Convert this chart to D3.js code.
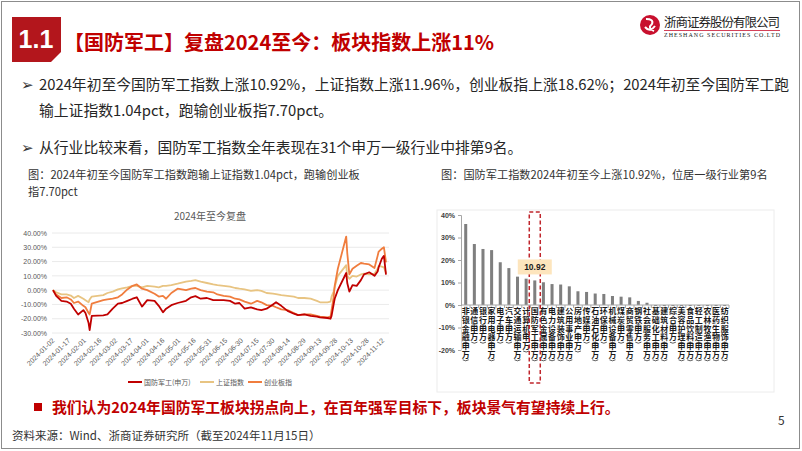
<!DOCTYPE html>
<html>
<head>
<meta charset="utf-8">
<script src="https://cdn.jsdelivr.net/npm/d3@7"></script>
<style>
  body { margin: 0; background: #fff; }
  svg { display: block; font-family: "Noto Sans CJK SC", "Noto Sans", sans-serif; }
</style>
</head>
<body>
<svg id="slide" width="802" height="451"></svg>
<script>
// ---- left chart data (cumulative return since 2024-01-02, %) ----
const dates = ['01-02','01-05','01-10','01-15','01-19','01-22','01-26','01-31',
  '02-02','02-05','02-06','02-08','02-19','02-23','02-28',
  '03-04','03-08','03-13','03-18','03-22','03-27',
  '04-01','04-08','04-12','04-16','04-19','04-24','04-30',
  '05-08','05-13','05-17','05-22','05-28',
  '06-03','06-07','06-13','06-19','06-24','06-28',
  '07-03','07-09','07-15','07-19','07-24','07-30',
  '08-02','08-07','08-13','08-19','08-23','08-29',
  '09-04','09-10','09-13','09-20','09-23','09-24','09-26','09-27','09-30',
  '10-08','10-09','10-11','10-14','10-18','10-22','10-25','10-30',
  '11-04','11-07','11-08','11-11','11-13','11-15'];
const defenseVals = [0, -4, -7.5, -8, -9.5, -13, -17, -14,
  -16, -23, -28, -18, -17.6, -17, -13,
  -9.5, -9, -7.5, -6, -5, -11.5,
  -7, -7.5, -11, -15.5, -13, -10.5, -9,
  -7.5, -5, -4.2, -6, -5.5,
  -7, -7, -7, -7.5, -9.5, -9,
  -13, -12, -13.5, -14, -13, -10,
  -8.5, -11, -14.5, -16.5, -17.5, -17,
  -18, -18.5, -19, -19.5, -20, -18, -10, -6, 0,
  12, 5, -1, 3.5, 3, 7, 11, 12.5,
  10, 13, 16, 22, 24, 10.92];
const shVals = [0, -1.5, -3, -3, -3.8, -5.5, -4, -6,
  -7, -8.5, -6.5, -4.5, -3.5, -2, -1,
  0.5, 1.2, 2, 3, 3, 2,
  3, 2.5, 2, 3, 3, 3.5, 4.5,
  6, 6.5, 7, 6, 5,
  4, 3.5, 3, 2.5, 1.5, 1,
  0.5, -0.5, 0, -0.5, -2, -2.5,
  -2.8, -3.5, -4, -4.5, -5.5, -5.5,
  -6, -7.5, -8.5, -8.5, -8, -4.5, -1, 2, 10,
  17.5, 10, 8, 10, 9.5, 11, 11.5, 11,
  11.5, 15, 17, 16.5, 16, 11.96];
const gemVals = [0, -3, -5.5, -5, -6.5, -9, -8, -11,
  -12, -16, -17, -9.5, -7, -6.5, -6,
  -5, -3, 0.5, 3, 4, 1,
  0, -2.5, -4.5, -4, -6, -2, 1,
  0, 1, 1.5, 0, -1,
  -1.5, -3, -4, -4.5, -6, -6.5,
  -8, -9.5, -7.5, -8.5, -10.5, -11,
  -12, -13.5, -14, -16, -17.5, -17,
  -17, -18, -18.5, -19, -18.5, -14, -5, 3, 15,
  37.5, 26, 11, 15, 17, 19, 18.5, 18,
  15.5, 24, 27, 29, 30, 19.5];
const seriesNames = ['国防军工(申万)', '上证指数', '创业板指'];
const seriesColors = ['#c00000', '#e8c482', '#f07d3e'];
const lineTicks = [40, 30, 20, 10, 0, -10, -20, -30];

// ---- right chart data (2024 YTD return by SW level-1 industry, %) ----
const industries = ['非银金融','通信','银行','家用电器','电子','汽车','交通运输','计算机',
  '国防军工','有色金属','电力设备','建筑装饰','公用事业','房地产','传媒','石油石化',
  '环保','机械设备','煤炭','商贸零售','钢铁','社会服务','基础化工','建筑材料',
  '综合','美容护理','食品饮料','轻工制造','农林牧渔','医药生物','纺织服饰'];
const industryVals = [36, 27.1, 24.9, 24.4, 19, 16.4, 12.6, 11.7,
  10.92, 10.1, 9.3, 9.1, 8.3, 6.1, 5.8, 5.1,
  4.9, 4.0, 3.7, 3.4, 1.8, 1.0, -0.6, -1.4,
  -2.2, -3.1, -4.0, -5.2, -6.5, -8.0, -9.3];
const barTicks = [40, 30, 20, 10, 0, -10, -20];
const highlight = '国防军工';

const svg = d3.select('#slide');
const red = '#c00000';

// slide frame
svg.append('rect').attr('x', 1.5).attr('y', 1.5).attr('width', 798).attr('height', 447)
  .attr('fill', 'none').attr('stroke', '#8c8c8c');

// header
svg.append('path').attr('d', 'M12,17H61V52L51,62H12Z').attr('fill', '#b3161c');
svg.append('text').attr('x', 36).attr('y', 48).attr('text-anchor', 'middle')
  .attr('fill', '#fff').attr('font-size', 25).attr('font-weight', 700)
  .attr('font-family', 'Liberation Sans Narrow, Arial, sans-serif').text('1.1');
svg.append('text').attr('x', 64).attr('y', 50).attr('fill', red)
  .attr('font-size', 20).attr('font-weight', 700)
  .text('【国防军工】复盘2024至今：板块指数上涨11%');

// logo
const logo = svg.append('g').attr('transform', 'translate(650,25)');
logo.append('circle').attr('r', 10).attr('fill', '#c8102e');
logo.append('path').attr('d', 'M-4,-6 Q4,-6 2,-1 Q-3,3 4,6 M-5,2 Q0,8 5,1')
  .attr('fill', 'none').attr('stroke', '#fff').attr('stroke-width', 2);
svg.append('text').attr('x', 664).attr('y', 27).attr('font-size', 12.5)
  .attr('fill', '#222').attr('textLength', 116).text('浙商证券股份有限公司');
svg.append('line').attr('x1', 664).attr('x2', 780).attr('y1', 30.5).attr('y2', 30.5)
  .attr('stroke', '#c8102e').attr('stroke-width', 0.8);
svg.append('text').attr('x', 664).attr('y', 37).attr('font-size', 6)
  .attr('font-family', 'Liberation Serif, serif').attr('fill', '#222')
  .attr('textLength', 116).text('ZHESHANG SECURITIES CO.LTD');

// bullets
const bullets = [
  {y: 90, arrow: true, text: '2024年初至今国防军工指数上涨10.92%，上证指数上涨11.96%，创业板指上涨18.62%；2024年初至今国防军工跑'},
  {y: 116, arrow: false, text: '输上证指数1.04pct，跑输创业板指7.70pct。'},
  {y: 153, arrow: true, text: '从行业比较来看，国防军工指数全年表现在31个申万一级行业中排第9名。'}
];
bullets.forEach(b => {
  if (b.arrow) {
    svg.append('text').attr('x', 21).attr('y', b.y).attr('font-size', 15)
      .attr('font-family', 'DejaVu Sans').attr('fill', '#333').text('➢');
  }
  svg.append('text').attr('x', 39).attr('y', b.y).attr('font-size', 14.8)
    .attr('fill', '#262626').text(b.text);
});

// captions
svg.append('text').attr('x', 28).attr('y', 179).attr('font-size', 11.2).attr('fill', '#333')
  .text('图：2024年初至今国防军工指数跑输上证指数1.04pct，跑输创业板');
svg.append('text').attr('x', 28).attr('y', 195.5).attr('font-size', 11.2).attr('fill', '#333')
  .text('指7.70pct');
svg.append('text').attr('x', 441).attr('y', 179).attr('font-size', 11.2).attr('fill', '#333')
  .text('图：国防军工指数2024年初至今上涨10.92%，位居一级行业第9名');

// ================= left: line chart =================
const parse = d3.timeParse('%Y-%m-%d');
const dd = dates.map(d => parse('2024-' + d));
const xL = d3.scaleTime().domain([parse('2024-01-02'), parse('2024-11-15')]).range([53, 386]);
const yL = d3.scaleLinear().domain([-30, 40]).range([333, 233]);

svg.append('text').attr('x', 210).attr('y', 220).attr('text-anchor', 'middle')
  .attr('font-size', 10).attr('fill', '#595959').text('2024年至今复盘');

const gL = svg.append('g');
gL.selectAll('line.grid').data(lineTicks).enter().append('line')
  .attr('x1', 52).attr('x2', 389)
  .attr('y1', d => yL(d)).attr('y2', d => yL(d))
  .attr('stroke', '#e4e4e4').attr('stroke-width', 0.8);

const yAxisL = gL.append('g').attr('transform', 'translate(50,0)')
  .call(d3.axisLeft(yL).tickValues(lineTicks).tickSize(0).tickFormat(d => d.toFixed(2) + '%'));
yAxisL.select('.domain').remove();
yAxisL.selectAll('text').attr('font-size', 7).attr('fill', '#595959')
  .attr('font-family', 'Liberation Sans, Arial, sans-serif');

const xTicks = d3.timeDay.range(parse('2024-01-02'), parse('2024-11-13'), 15);
const fmt = d3.timeFormat('%Y-%m-%d');
gL.selectAll('text.xlab').data(xTicks).enter().append('text')
  .attr('transform', d => `translate(${xL(d) + 2},341) rotate(-45)`)
  .attr('text-anchor', 'end').attr('font-size', 7).attr('fill', '#595959')
  .attr('font-family', 'Liberation Sans, Arial, sans-serif')
  .text(d => fmt(d));

const line = d3.line().x((d, i) => xL(dd[i])).y(d => yL(d));
[[shVals, 1], [gemVals, 2], [defenseVals, 0]].forEach(([vals, k]) => {
  gL.append('path').datum(vals).attr('d', line).attr('fill', 'none')
    .attr('stroke', seriesColors[k]).attr('stroke-width', 1.8)
    .attr('stroke-linejoin', 'round');
});

// legend
const legX = [128, 200, 248];
seriesNames.forEach((n, k) => {
  svg.append('line').attr('x1', legX[k]).attr('x2', legX[k] + 14)
    .attr('y1', 382).attr('y2', 382).attr('stroke', seriesColors[k]).attr('stroke-width', 2);
  svg.append('text').attr('x', legX[k] + 16).attr('y', 384.5).attr('font-size', 7)
    .attr('fill', '#595959').text(n);
});

// ================= right: bar chart =================
const xB = d3.scaleBand().domain(industries).range([461.4, 729])
  .paddingInner(0.65).paddingOuter(0.325);
const yB = d3.scaleLinear().domain([-20, 40]).range([350, 215]);
const step = xB.step();

svg.append('rect').attr('x', 437).attr('y', 210).attr('width', 337).attr('height', 182)
  .attr('fill', 'none').attr('stroke', '#ececec');

const gB = svg.append('g');
gB.selectAll('rect.bar').data(industries).enter().append('rect')
  .attr('x', d => xB(d)).attr('width', xB.bandwidth())
  .attr('y', (d, i) => yB(Math.max(0, industryVals[i])))
  .attr('height', (d, i) => Math.abs(yB(industryVals[i]) - yB(0)))
  .attr('fill', '#7f7f7f');

const yAxisB = gB.append('g').attr('transform', 'translate(461,0)')
  .call(d3.axisLeft(yB).tickValues(barTicks).tickSize(3).tickFormat(d => d + '%'));
yAxisB.select('.domain').attr('stroke', '#a6a6a6');
yAxisB.selectAll('.tick line').attr('stroke', '#a6a6a6');
yAxisB.selectAll('text').attr('font-size', 7).attr('font-weight', 700).attr('fill', '#404040')
  .attr('font-family', 'Liberation Sans, Arial, sans-serif');

// category labels: characters stacked one per cell, "(申万)" as two bracketed cells
const cell = 8.8;
const labG = gB.append('g');
industries.forEach((name, i) => {
  const cx = xB(name) + xB.bandwidth() / 2;
  const chars = [...name, '申', '万'];
  labG.append('rect').attr('x', cx - 4.3).attr('y', yB(0) + 1)
    .attr('width', 8.6).attr('height', chars.length * cell + 3).attr('fill', '#fff');
  chars.forEach((c, j) => {
    labG.append('text').attr('x', cx).attr('y', yB(0) + 9 + j * cell)
      .attr('text-anchor', 'middle').attr('font-size', 8).attr('font-weight', 700)
      .attr('fill', '#1a1a1a').text(c);
  });
  const y1 = yB(0) + 2 + (chars.length - 2) * cell;
  const y2 = yB(0) + 3 + chars.length * cell;
  labG.append('path').attr('d', `M${cx - 3},${y1 + 1}Q${cx},${y1 - 1} ${cx + 3},${y1 + 1}`)
    .attr('fill', 'none').attr('stroke', '#1a1a1a').attr('stroke-width', 0.7);
  labG.append('path').attr('d', `M${cx - 3},${y2 - 1}Q${cx},${y2 + 1} ${cx + 3},${y2 - 1}`)
    .attr('fill', 'none').attr('stroke', '#1a1a1a').attr('stroke-width', 0.7);
});

// zero axis line with category ticks
gB.append('line').attr('x1', 461).attr('x2', 729).attr('y1', yB(0)).attr('y2', yB(0))
  .attr('stroke', '#a6a6a6');
gB.selectAll('line.ctick').data(industries).enter().append('line')
  .attr('x1', d => xB(d) - (step - xB.bandwidth()) / 2 + step)
  .attr('x2', d => xB(d) - (step - xB.bandwidth()) / 2 + step)
  .attr('y1', yB(0)).attr('y2', yB(0) + 3).attr('stroke', '#a6a6a6');

// highlight box + callout
const hx = xB(highlight) + xB.bandwidth() / 2;
gB.append('rect').attr('x', hx - 5.5).attr('y', 212).attr('width', 11).attr('height', 171)
  .attr('fill', 'none').attr('stroke', '#c0262d').attr('stroke-width', 1.5)
  .attr('stroke-dasharray', '4,2.5');
const hv = industryVals[industries.indexOf(highlight)];
gB.append('rect').attr('x', hx - 17).attr('y', yB(hv) - 21).attr('width', 34).attr('height', 15)
  .attr('fill', '#fde5bd');
gB.append('text').attr('x', hx).attr('y', yB(hv) - 10.5).attr('text-anchor', 'middle')
  .attr('font-size', 8.5).attr('font-weight', 700).attr('fill', '#1a1a1a')
  .attr('font-family', 'Liberation Sans, Arial, sans-serif').text(hv.toFixed(2));

// conclusion + source
svg.append('rect').attr('x', 34).attr('y', 403).attr('width', 8).attr('height', 8).attr('fill', red);
svg.append('text').attr('x', 52).attr('y', 413).attr('font-size', 14.8).attr('font-weight', 700)
  .attr('fill', red).text('我们认为2024年国防军工板块拐点向上，在百年强军目标下，板块景气有望持续上行。');
svg.append('text').attr('x', 12).attr('y', 440).attr('font-size', 11.5).attr('fill', '#333')
  .text('资料来源：Wind、浙商证券研究所（截至2024年11月15日）');
svg.append('text').attr('x', 778).attr('y', 425).attr('font-size', 12).attr('fill', '#333').text('5');
</script>
</body>
</html>
